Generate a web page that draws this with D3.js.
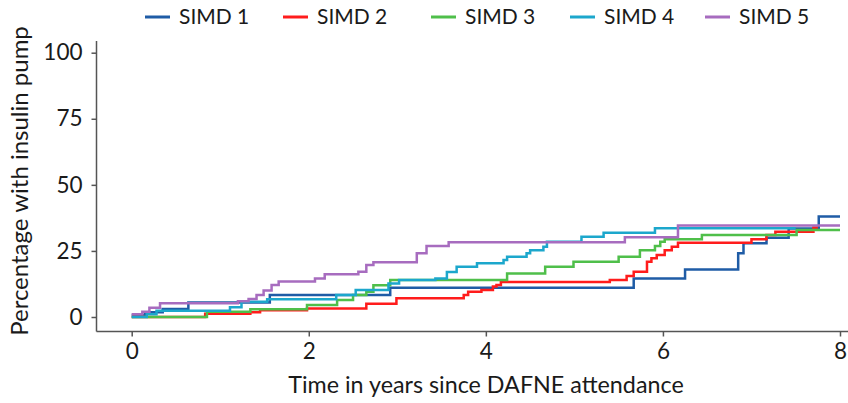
<!DOCTYPE html>
<html>
<head>
<meta charset="utf-8">
<script src="https://cdn.jsdelivr.net/npm/d3@7"></script>
<style>
  html, body { margin: 0; padding: 0; background: #fff; }
  svg { display: block; }
  text { font-family: Lato, "Open Sans", sans-serif; fill: #1a1a1a; }
</style>
</head>
<body>
<svg id="chart" width="848" height="403"></svg>
<script>
// ---- Data (time in years, percentage with insulin pump) ----
const seriesNames = ["SIMD 1", "SIMD 2", "SIMD 3", "SIMD 4", "SIMD 5"];
const seriesColors = ["#1f5ca6", "#ff1c1c", "#4fbf4a", "#1ca7cc", "#a76cbf"];

const simd1Time = [0, 0.15, 0.35, 0.64, 1.56, 2.92, 5.67, 6.25, 6.85, 6.91, 7.17, 7.42, 7.76, 8.0];
const simd1Pct  = [0.8, 1.8, 3.0, 5.5, 8.3, 11.1, 14.6, 18.0, 24.1, 27.9, 30.0, 33.5, 38.0, 38.0];

const simd2Time = [0, 0.83, 1.34, 1.45, 1.98, 2.65, 2.99, 3.75, 3.8, 3.95, 4.08, 4.12, 4.17, 5.4, 5.59, 5.67, 5.82, 5.87, 5.93, 6.02, 6.10, 6.17, 7.0, 7.17, 7.27, 7.70, 7.75];
const simd2Pct  = [0, 1.2, 1.8, 2.6, 3.2, 5.0, 7.1, 8.3, 9.6, 10.2, 11.5, 12.1, 13.2, 14.0, 15.5, 17.1, 20.9, 22.2, 23.5, 25.3, 26.6, 28.1, 29.4, 31.0, 32.3, 33.9, 33.9];

const simd3Time = [0, 0.85, 1.34, 1.98, 2.32, 2.50, 2.65, 2.73, 2.92, 4.24, 4.67, 4.99, 5.50, 5.74, 5.91, 5.97, 6.02, 6.44, 7.51, 8.0];
const simd3Pct  = [0, 2.0, 2.9, 4.5, 6.4, 8.3, 9.6, 12.0, 14.0, 16.5, 19.0, 20.9, 22.8, 25.3, 26.9, 28.5, 29.4, 31.0, 32.9, 32.9];

const simd4Time = [0, 0.17, 0.28, 1.11, 1.24, 1.53, 2.31, 2.53, 2.90, 3.02, 3.43, 3.56, 3.67, 3.90, 4.20, 4.24, 4.46, 4.50, 4.65, 4.69, 5.08, 5.33, 5.91, 7.5];
const simd4Pct  = [0, 1.0, 2.4, 3.7, 5.8, 6.7, 8.3, 10.2, 12.7, 14.0, 14.6, 17.0, 19.0, 20.3, 21.6, 22.8, 24.1, 25.3, 26.6, 28.5, 30.4, 31.9, 33.6, 33.6];

const simd5Time = [0, 0.12, 0.20, 0.32, 1.20, 1.32, 1.41, 1.49, 1.58, 1.66, 2.07, 2.18, 2.56, 2.65, 2.73, 3.22, 3.33, 3.58, 5.57, 6.17, 8.0];
const simd5Pct  = [1.0, 2.0, 3.5, 5.2, 6.0, 6.8, 8.3, 10.0, 12.1, 13.4, 14.6, 16.2, 17.1, 19.7, 20.7, 24.1, 26.9, 28.3, 30.2, 34.6, 34.6];

const xTicks = [0, 2, 4, 6, 8];
const yTicks = [0, 25, 50, 75, 100];
const xTitle = "Time in years since DAFNE attendance";
const yTitle = "Percentage with insulin pump";

// ---- Build series ----
const times = [simd1Time, simd2Time, simd3Time, simd4Time, simd5Time];
const pcts = [simd1Pct, simd2Pct, simd3Pct, simd4Pct, simd5Pct];
const series = seriesNames.map((name, i) => ({
  name, color: seriesColors[i],
  values: times[i].map((t, j) => ({ t, p: pcts[i][j] }))
}));

// ---- Layout ----
const svg = d3.select("#chart");
const FS_LEG = 21, FS_TICK = 22.5, FS_TITLE = 23.3;
const x = d3.scaleLinear().domain([0, 8]).range([131.7, 840]);
const y = d3.scaleLinear().domain([0, 100]).range([317, 52.7]);
const axisX = 96.5, axisY = 331.5;
const axisColor = "#555";

// Axis lines
svg.append("line").attr("x1", axisX).attr("x2", axisX).attr("y1", 41).attr("y2", axisY)
  .attr("stroke", axisColor).attr("stroke-width", 1.5);
svg.append("line").attr("x1", axisX).attr("x2", 848).attr("y1", axisY).attr("y2", axisY)
  .attr("stroke", axisColor).attr("stroke-width", 1.5);

// Y axis
const gy = svg.append("g").attr("transform", `translate(${axisX},0)`)
  .call(d3.axisLeft(y).tickValues(yTicks).tickSize(5).tickPadding(9).tickSizeOuter(0));
gy.select(".domain").remove();
gy.selectAll(".tick line").attr("stroke", axisColor).attr("stroke-width", 1.5);
gy.selectAll(".tick text").style("font-size", FS_TICK + "px").attr("fill", "#1a1a1a");

// X axis
const gx = svg.append("g").attr("transform", `translate(0,${axisY})`)
  .call(d3.axisBottom(x).tickValues(xTicks).tickSize(5).tickPadding(7).tickSizeOuter(0));
gx.select(".domain").remove();
gx.selectAll(".tick line").attr("stroke", axisColor).attr("stroke-width", 1.5);
gx.selectAll(".tick text").style("font-size", FS_TICK + "px").attr("fill", "#1a1a1a");

// Titles
svg.append("text").attr("x", 486).attr("y", 393).attr("text-anchor", "middle")
  .style("font-size", FS_TITLE + "px").text(xTitle);
svg.append("text").attr("transform", "translate(28,181) rotate(-90)")
  .attr("text-anchor", "middle").style("font-size", (FS_TITLE + 0.7) + "px").text(yTitle);

// Lines
const line = d3.line().curve(d3.curveStepAfter).x(d => x(d.t)).y(d => y(d.p));
svg.append("g").selectAll("path").data(series).join("path")
  .attr("d", d => line(d.values))
  .attr("fill", "none").attr("stroke", d => d.color).attr("stroke-width", 2.5)
  .attr("stroke-linejoin", "miter");

// Legend
const legendX = [145, 283, 431, 570, 705];
const lg = svg.append("g").selectAll("g").data(series).join("g")
  .attr("transform", (d, i) => `translate(${legendX[i]},17)`);
lg.append("line").attr("x1", 0).attr("x2", 25).attr("y1", 0).attr("y2", 0)
  .attr("stroke", d => d.color).attr("stroke-width", 3);
lg.append("text").attr("x", 34).attr("y", 0).attr("dy", "0.35em")
  .style("font-size", FS_LEG + "px").text(d => d.name);
</script>
</body>
</html>
